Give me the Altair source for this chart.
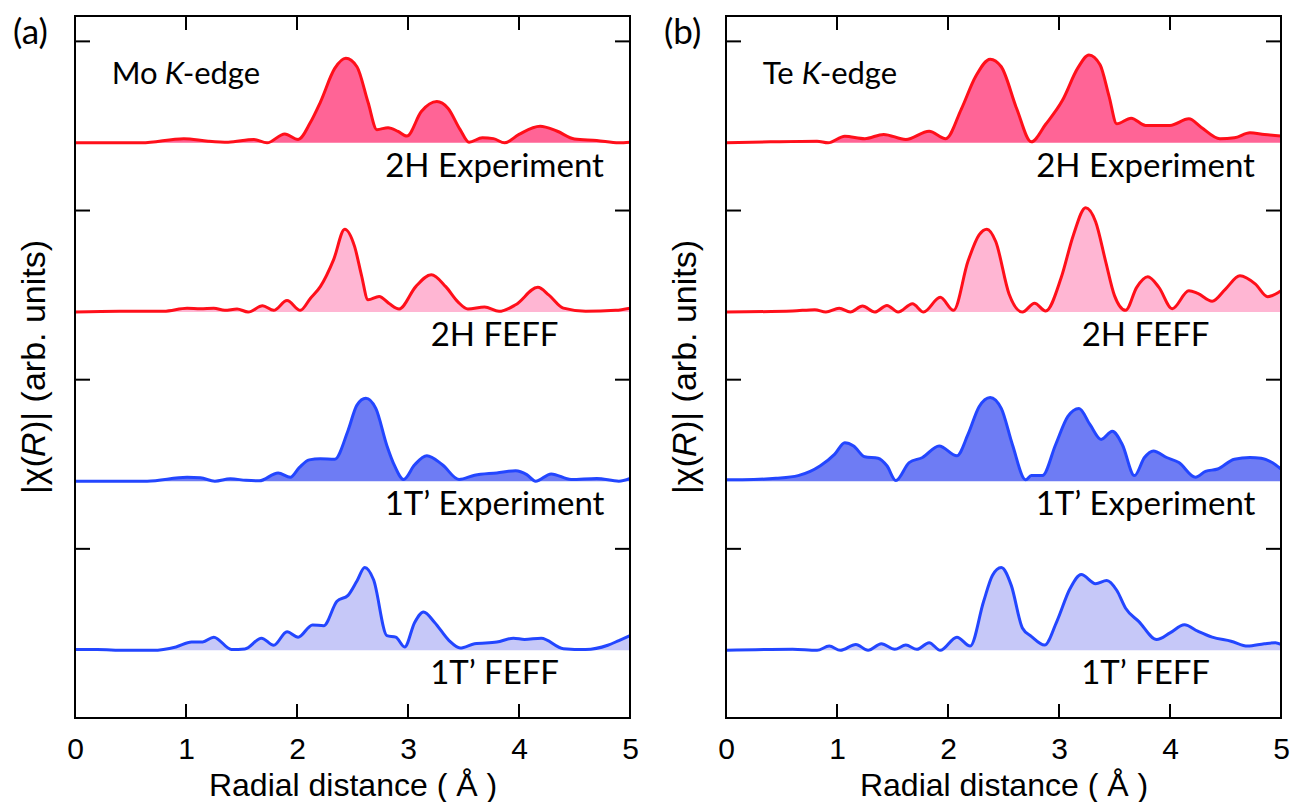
import altair as alt
import pandas as pd

# ---------------- data (x in Å, height in arb. units) ----------------
mo_2h_exp_x = [0, 0.3, 0.6, 0.98, 1.2, 1.38, 1.61, 1.73, 1.89, 2.01, 2.12, 2.21, 2.34, 2.44, 2.54, 2.64, 2.72, 2.82, 2.91, 2.99, 3.12, 3.26, 3.36, 3.47, 3.55, 3.67, 3.77, 3.87, 4.0, 4.19, 4.34, 4.5, 4.7, 4.9, 5.0]
mo_2h_exp_y = [0, 0.0, 0.0, 0.025, 0.01, 0.004, 0.02, 0.0, 0.053, 0.02, 0.12, 0.24, 0.44, 0.50, 0.45, 0.24, 0.078, 0.09, 0.068, 0.04, 0.185, 0.244, 0.205, 0.078, 0.004, 0.03, 0.025, 0.0, 0.05, 0.098, 0.07, 0.023, 0.014, 0.0, 0.004]

mo_2h_feff_x = [0, 0.4, 0.8, 1.01, 1.13, 1.25, 1.35, 1.46, 1.56, 1.69, 1.79, 1.91, 2.03, 2.12, 2.21, 2.33, 2.43, 2.52, 2.58, 2.64, 2.74, 2.83, 2.92, 3.07, 3.21, 3.34, 3.45, 3.54, 3.69, 3.82, 3.97, 4.17, 4.27, 4.4, 4.6, 4.87, 5.0]
mo_2h_feff_y = [0, 0.005, 0.005, 0.023, 0.02, 0.023, 0.01, 0.018, 0.0, 0.037, 0.01, 0.068, 0.01, 0.08, 0.15, 0.31, 0.49, 0.385, 0.22, 0.072, 0.092, 0.05, 0.018, 0.15, 0.22, 0.15, 0.06, 0.018, 0.03, 0.004, 0.043, 0.146, 0.10, 0.023, 0.005, 0.01, 0.023]

mo_1t_exp_x = [0, 0.3, 0.65, 1.01, 1.13, 1.26, 1.4, 1.54, 1.66, 1.83, 1.94, 2.02, 2.11, 2.21, 2.34, 2.46, 2.54, 2.62, 2.71, 2.81, 2.88, 2.96, 3.06, 3.17, 3.31, 3.46, 3.6, 3.8, 3.97, 4.07, 4.15, 4.29, 4.47, 4.7, 4.9, 5.0]
mo_1t_exp_y = [0.0, 0.0, 0.0, 0.023, 0.02, 0.0, 0.014, 0.005, 0.002, 0.049, 0.023, 0.08, 0.126, 0.132, 0.13, 0.30, 0.45, 0.49, 0.43, 0.21, 0.09, 0.01, 0.097, 0.15, 0.097, 0.01, 0.035, 0.049, 0.062, 0.039, 0.0, 0.043, 0.01, 0.016, 0.0, 0.016]

mo_1t_feff_x = [0, 0.2, 0.45, 0.7, 0.91, 1.05, 1.15, 1.25, 1.41, 1.53, 1.68, 1.79, 1.91, 2.01, 2.14, 2.24, 2.36, 2.46, 2.54, 2.61, 2.69, 2.81, 2.89, 2.97, 3.06, 3.14, 3.24, 3.37, 3.47, 3.6, 3.8, 3.95, 4.05, 4.2, 4.4, 4.6, 4.8, 4.9, 5.0]
mo_1t_feff_y = [0.005, 0.005, 0.0, 0.0, 0.02, 0.049, 0.05, 0.078, 0.005, 0.008, 0.072, 0.03, 0.11, 0.078, 0.15, 0.146, 0.29, 0.325, 0.41, 0.49, 0.417, 0.087, 0.078, 0.02, 0.165, 0.227, 0.165, 0.058, 0.014, 0.039, 0.049, 0.072, 0.064, 0.072, 0.01, 0.005, 0.03, 0.058, 0.087]

te_2h_exp_x = [0, 0.4, 0.82, 0.92, 1.07, 1.25, 1.42, 1.62, 1.83, 1.98, 2.12, 2.25, 2.38, 2.48, 2.62, 2.75, 2.88, 3.03, 3.17, 3.27, 3.37, 3.45, 3.52, 3.65, 3.78, 4.0, 4.17, 4.28, 4.45, 4.58, 4.72, 4.85, 5.0]
te_2h_exp_y = [0.0, 0.006, 0.01, 0.0, 0.039, 0.025, 0.05, 0.02, 0.068, 0.025, 0.2, 0.394, 0.495, 0.45, 0.2, 0.006, 0.11, 0.25, 0.443, 0.52, 0.462, 0.278, 0.113, 0.146, 0.103, 0.103, 0.142, 0.093, 0.025, 0.03, 0.06, 0.049, 0.041]

te_2h_feff_x = [0, 0.6, 0.8, 0.9, 1.02, 1.12, 1.23, 1.34, 1.45, 1.55, 1.68, 1.78, 1.93, 2.05, 2.18, 2.28, 2.35, 2.43, 2.55, 2.67, 2.78, 2.88, 3.02, 3.13, 3.24, 3.33, 3.42, 3.5, 3.6, 3.7, 3.8, 3.9, 4.02, 4.17, 4.25, 4.38, 4.5, 4.63, 4.77, 4.88, 5.0]
te_2h_feff_y = [0.0, 0.006, 0.014, 0.0, 0.023, 0.0, 0.035, 0.0, 0.039, 0.0, 0.049, 0.0, 0.087, 0.01, 0.30, 0.456, 0.49, 0.417, 0.107, 0.0, 0.052, 0.006, 0.204, 0.456, 0.617, 0.534, 0.3, 0.097, 0.01, 0.146, 0.208, 0.146, 0.02, 0.126, 0.11, 0.064, 0.136, 0.214, 0.165, 0.091, 0.126]

te_1t_exp_x = [0, 0.25, 0.45, 0.65, 0.85, 0.98, 1.07, 1.15, 1.25, 1.37, 1.45, 1.53, 1.65, 1.77, 1.92, 2.08, 2.18, 2.28, 2.38, 2.48, 2.58, 2.7, 2.75, 2.85, 2.97, 3.08, 3.18, 3.28, 3.38, 3.48, 3.57, 3.68, 3.77, 3.85, 3.97, 4.08, 4.23, 4.32, 4.43, 4.58, 4.72, 4.82, 4.92, 5.0]
te_1t_exp_y = [0.008, 0.01, 0.017, 0.033, 0.091, 0.16, 0.227, 0.208, 0.144, 0.136, 0.091, 0.004, 0.11, 0.14, 0.208, 0.15, 0.276, 0.44, 0.495, 0.43, 0.217, 0.008, 0.033, 0.033, 0.217, 0.383, 0.43, 0.334, 0.247, 0.295, 0.217, 0.033, 0.14, 0.179, 0.14, 0.11, 0.023, 0.058, 0.072, 0.13, 0.14, 0.136, 0.11, 0.072]

te_1t_feff_x = [0, 0.6, 0.82, 0.93, 1.03, 1.17, 1.28, 1.4, 1.52, 1.62, 1.72, 1.83, 1.93, 2.08, 2.2, 2.32, 2.4, 2.48, 2.57, 2.67, 2.75, 2.87, 2.98, 3.1, 3.2, 3.33, 3.43, 3.52, 3.6, 3.72, 3.88, 4.0, 4.13, 4.25, 4.38, 4.55, 4.7, 4.85, 4.95, 5.0]
te_1t_feff_y = [0.0, 0.006, 0.0, 0.025, 0.0, 0.035, 0.0, 0.039, 0.006, 0.031, 0.006, 0.045, 0.0, 0.078, 0.025, 0.287, 0.443, 0.49, 0.384, 0.132, 0.083, 0.031, 0.17, 0.365, 0.448, 0.394, 0.413, 0.355, 0.249, 0.17, 0.064, 0.103, 0.151, 0.113, 0.078, 0.054, 0.025, 0.039, 0.045, 0.035]

curve_names = ["2H Experiment", "2H FEFF", "1T\u2019 Experiment", "1T\u2019 FEFF"]
curve_offsets = [3.4, 2.4, 1.4, 0.4]
fill_colors = ["#ff6496", "#ffb6d3", "#6e7cf4", "#c6c8f8"]
line_colors = ["#ff0f1a", "#ff0f1a", "#2346ff", "#2346ff"]
x_ticks = [0, 1, 2, 3, 4, 5]
inner_ticks_x = [1, 2, 3, 4]
inner_ticks_y = [1, 2, 3, 4]
panel_letters = ["(a)", "(b)"]
edge_elements = ["Mo", "Te"]
ytitle_parts = ["|χ(", "R", ")| (arb. units)"]

W, H = 555, 702
SANS = "Liberation Sans, Arial, sans-serif"
LABF = "Lato, Open Sans, sans-serif"
YT_SIZE = 34


def panel_df(series):
    rows = []
    for name, off, (xs, ys) in zip(curve_names, curve_offsets, series):
        for xv, yv in zip(xs, ys):
            rows.append({"curve": name, "x": xv, "base": off, "top": off + yv})
    return pd.DataFrame(rows)


def make_panel(series, letter, element):
    df = panel_df(series)
    xsc = alt.Scale(domain=[0, 5], nice=False, zero=False)
    ysc = alt.Scale(domain=[0, 4.15], nice=False, zero=False)
    xax = alt.Axis(values=x_ticks, format="d", ticks=False, domain=False, grid=False, labelPadding=16,
                   labelFont=SANS, labelFontSize=30, labelColor="black",
                   title="Radial distance ( Å )", titleFont=SANS, titleFontSize=32,
                   titleFontWeight="normal", titleColor="black", titlePadding=6, labelFlush=False)
    yax = alt.Axis(labels=False, ticks=False, domain=False, grid=False, title=None)

    area = alt.Chart(df).mark_area(interpolate="monotone", opacity=1).encode(
        x=alt.X("x:Q", scale=xsc, axis=xax),
        y=alt.Y("top:Q", scale=ysc, axis=yax),
        y2="base:Q",
        fill=alt.Fill("curve:N", scale=alt.Scale(domain=curve_names, range=fill_colors), legend=None),
        detail="curve:N",
    )
    line = alt.Chart(df).mark_line(interpolate="monotone", strokeWidth=3, clip=True).encode(
        x=alt.X("x:Q", scale=xsc),
        y=alt.Y("top:Q", scale=ysc),
        stroke=alt.Stroke("curve:N", scale=alt.Scale(domain=curve_names, range=line_colors), legend=None),
        detail="curve:N",
    )

    lab_df = pd.DataFrame({"text": curve_names, "x": [3.78] * 4,
                           "y": [o - 0.14 for o in curve_offsets]})
    labels = alt.Chart(lab_df).mark_text(font=LABF, fontSize=33, color="black",
                                         align="center", baseline="middle").encode(
        x="x:Q", y="y:Q", text="text:N")

    t_df = pd.DataFrame({"x": [0.33], "y": [3.80]})
    base_t = alt.Chart(t_df)
    k_dx = 53 if element == "Mo" else 39
    ed1 = base_t.mark_text(font=LABF, fontSize=31, align="left", baseline="middle",
                           color="black", text=element).encode(x="x:Q", y="y:Q")
    ed2 = base_t.mark_text(font=LABF, fontSize=31, align="left", baseline="middle", fontStyle="italic",
                           color="black", text="K", dx=k_dx).encode(x="x:Q", y="y:Q")
    ed3 = base_t.mark_text(font=LABF, fontSize=31, align="left", baseline="middle",
                           color="black", text="-edge", dx=k_dx + 18).encode(x="x:Q", y="y:Q")

    # y-axis title with italic R, built from three rotated pieces
    w1, wr, total = 37, 25, 254
    yt_kw = dict(font=SANS, fontSize=YT_SIZE, align="left", baseline="middle", angle=270, color="black")
    yt_x, yt_y = alt.value(-40), alt.value(H / 2 + total / 2)
    one = pd.DataFrame({"k": [0]})
    yt1 = alt.Chart(one).mark_text(text=ytitle_parts[0], **yt_kw).encode(x=yt_x, y=yt_y)
    yt2 = alt.Chart(one).mark_text(text=ytitle_parts[1], fontStyle="italic", dx=w1, **yt_kw).encode(x=yt_x, y=yt_y)
    yt3 = alt.Chart(one).mark_text(text=ytitle_parts[2], dx=w1 + wr, **yt_kw).encode(x=yt_x, y=yt_y)

    let = alt.Chart(pd.DataFrame({"t": [letter]})).mark_text(
        font=LABF, fontSize=35, align="left", baseline="top", color="black").encode(
        x=alt.value(-62), y=alt.value(0), text="t:N")

    frame = alt.Chart(one).mark_rect(fillOpacity=0, stroke="black", strokeWidth=2).encode(
        x=alt.value(0), x2=alt.value(W), y=alt.value(0), y2=alt.value(H))

    tx = pd.DataFrame({"v": inner_ticks_x})
    ty = pd.DataFrame({"v": inner_ticks_y})
    tk = dict(color="black", strokeWidth=2)
    bt = alt.Chart(tx).mark_rule(**tk).encode(x="v:Q", y=alt.value(H), y2=alt.value(H - 14))
    tt = alt.Chart(tx).mark_rule(**tk).encode(x="v:Q", y=alt.value(0), y2=alt.value(14))
    lt = alt.Chart(ty).mark_rule(**tk).encode(y="v:Q", x=alt.value(0), x2=alt.value(15))
    rt = alt.Chart(ty).mark_rule(**tk).encode(y="v:Q", x=alt.value(W), x2=alt.value(W - 15))

    return alt.layer(area, line, labels, ed1, ed2, ed3, yt1, yt2, yt3, let, frame,
                     bt, tt, lt, rt).properties(width=W, height=H)


pa = make_panel([(mo_2h_exp_x, mo_2h_exp_y), (mo_2h_feff_x, mo_2h_feff_y),
                 (mo_1t_exp_x, mo_1t_exp_y), (mo_1t_feff_x, mo_1t_feff_y)], panel_letters[0], edge_elements[0])
pb = make_panel([(te_2h_exp_x, te_2h_exp_y), (te_2h_feff_x, te_2h_feff_y),
                 (te_1t_exp_x, te_1t_exp_y), (te_1t_feff_x, te_1t_feff_y)], panel_letters[1], edge_elements[1])

chart = alt.hconcat(pa, pb, spacing=24).properties(
    padding={"top": 6, "left": 4, "right": 0, "bottom": 0}).configure_view(
    stroke=None).configure(background="white")

chart.save("out.html", embed_options={"renderer": "svg", "actions": False})
